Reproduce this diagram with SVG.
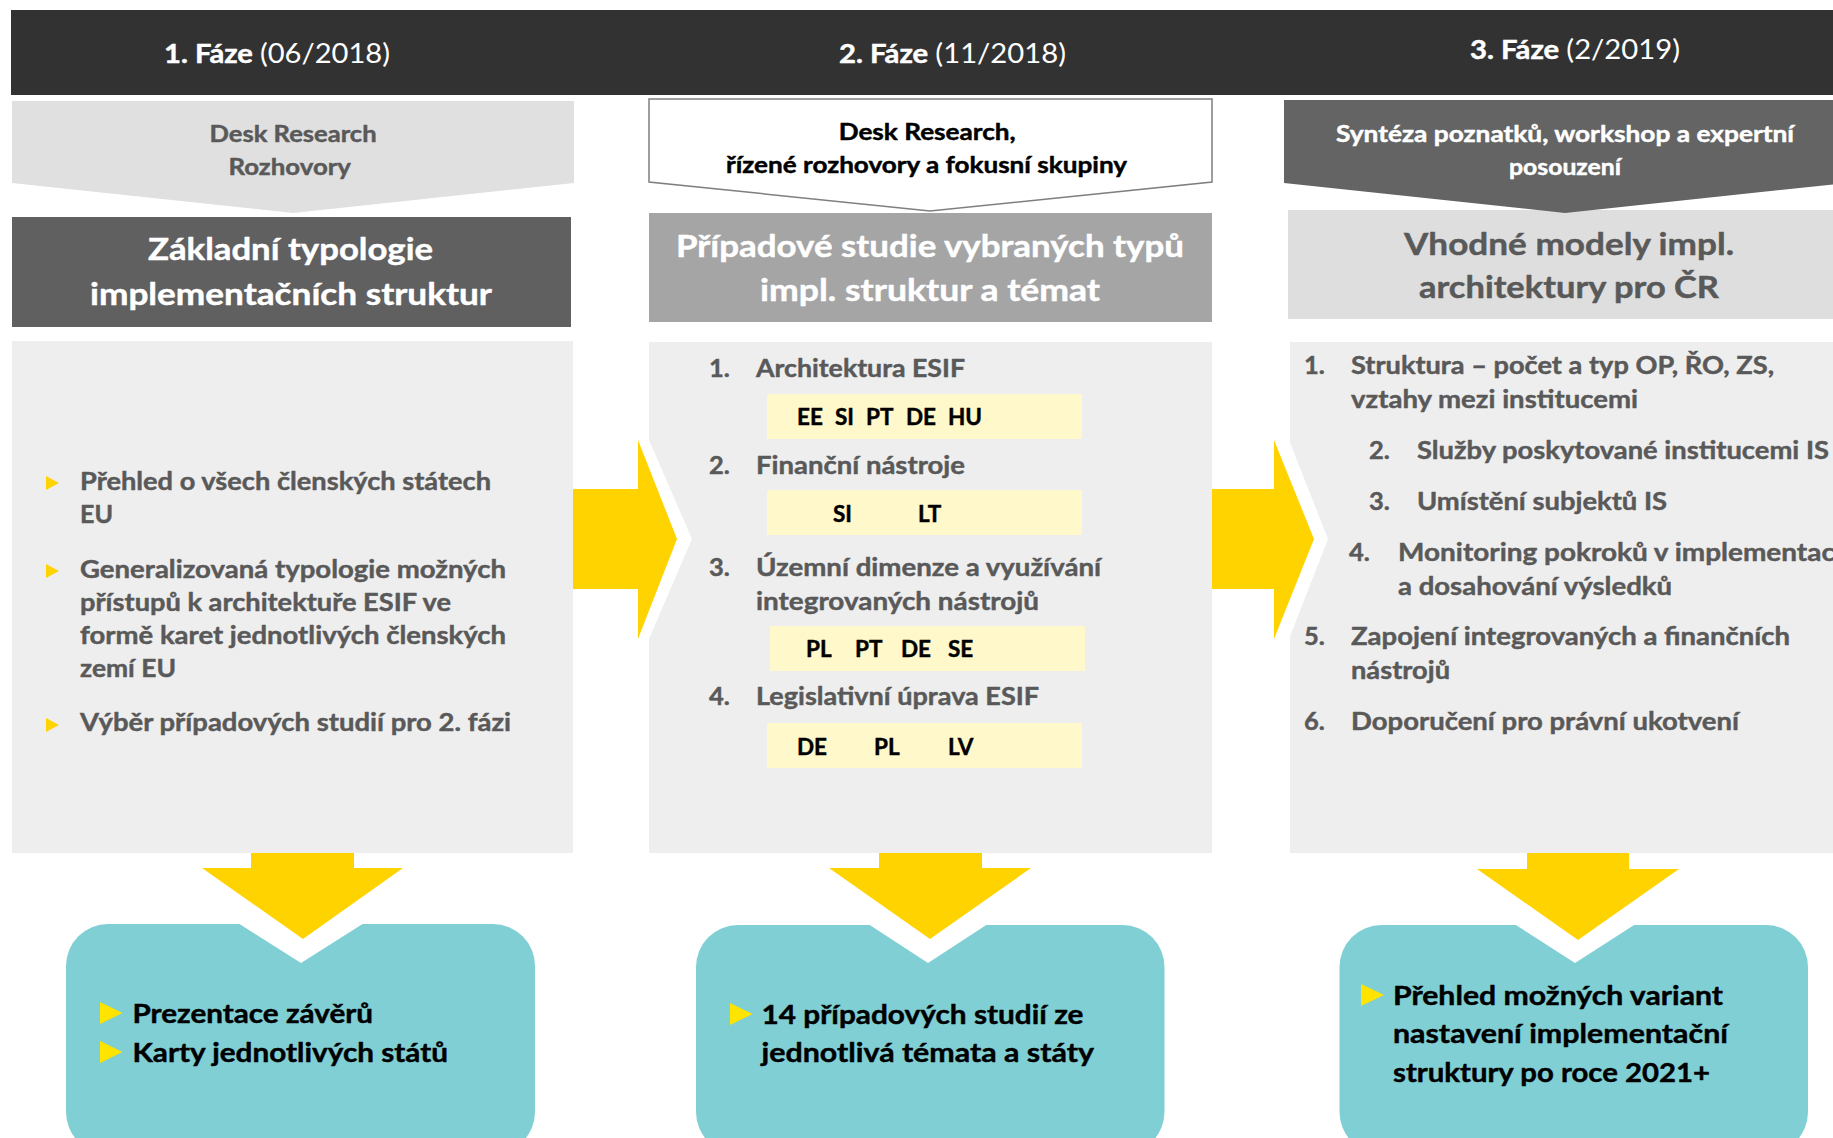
<svg xmlns="http://www.w3.org/2000/svg" width="1833" height="1138" viewBox="0 0 1833 1138">
<defs>
<style>
text{font-family:Lato,"Open Sans","Liberation Sans",sans-serif;font-weight:700;stroke-width:0.45px;stroke-linejoin:round}
.reg{font-weight:400;stroke-width:0}
.hdr{fill:#fff;stroke:#fff;font-size:26px}
.pt1{fill:#595959;stroke:#595959;font-size:22.5px}
.pt2{fill:#000;stroke:#000;font-size:22.5px}
.pt3{fill:#fff;stroke:#fff;font-size:22px}
.ttlw{fill:#fff;stroke:#fff;font-size:31px}
.ttlg{fill:#595959;stroke:#595959;font-size:31px}
.body{fill:#595959;stroke:#595959;font-size:25.5px}
.code{fill:#000;stroke:#000;font-size:22.5px}
.res{fill:#000;stroke:#000;font-size:27.5px}
.arrow{fill:#FFD300}
.gap{fill:#fff}
.bul{fill:#FFD300}
.tbul{fill:#FFE400}
.ybox{fill:#FFF8CA}
.panel{fill:#EEEEEE}
.teal{fill:#80CFD4}
</style>
</defs>
<rect width="1833" height="1138" fill="#fff"/>

<g id="header">
<rect x="11" y="10" width="1830" height="85" fill="#323232"/>
<text class="hdr" x="164" y="63" textLength="226" lengthAdjust="spacingAndGlyphs">1. Fáze <tspan class="reg">(06/2018)</tspan></text>
<text class="hdr" x="839" y="63" textLength="227" lengthAdjust="spacingAndGlyphs">2. Fáze <tspan class="reg">(11/2018)</tspan></text>
<text class="hdr" x="1470" y="59" textLength="210" lengthAdjust="spacingAndGlyphs">3. Fáze <tspan class="reg">(2/2019)</tspan></text>
</g>

<!-- Phase 1 -->
<g id="phase1-method">
<polygon points="12,101 574,101 574,183 293,213 12,183" fill="#E0E0E0"/>
<text class="pt1" x="209.6" y="142" textLength="167" lengthAdjust="spacingAndGlyphs">Desk Research</text>
<text class="pt1" x="228.5" y="175" textLength="122.5" lengthAdjust="spacingAndGlyphs">Rozhovory</text>
</g>
<g id="phase1-title">
<rect x="12" y="217" width="559" height="110" fill="#606060"/>
<text class="ttlw" x="148" y="260" textLength="285" lengthAdjust="spacingAndGlyphs">Základní typologie</text>
<text class="ttlw" x="90" y="305" textLength="402" lengthAdjust="spacingAndGlyphs">implementačních struktur</text>
</g>
<g id="phase1-body">
<rect class="panel" x="12" y="341" width="561" height="512"/>
<polygon class="bul" points="46,476 59,483 46,490"/>
<text class="body" x="80" y="490" textLength="411" lengthAdjust="spacingAndGlyphs">Přehled o všech členských státech</text>
<text class="body" x="80" y="523" textLength="33" lengthAdjust="spacingAndGlyphs">EU</text>
<polygon class="bul" points="46,564 59,571 46,578"/>
<text class="body" x="80" y="578" textLength="426" lengthAdjust="spacingAndGlyphs">Generalizovaná typologie možných</text>
<text class="body" x="80" y="611" textLength="371" lengthAdjust="spacingAndGlyphs">přístupů k architektuře ESIF ve</text>
<text class="body" x="80" y="644" textLength="426" lengthAdjust="spacingAndGlyphs">formě karet jednotlivých členských</text>
<text class="body" x="80" y="677" textLength="96" lengthAdjust="spacingAndGlyphs">zemí EU</text>
<polygon class="bul" points="46,718 59,725 46,732"/>
<text class="body" x="80" y="731" textLength="431" lengthAdjust="spacingAndGlyphs">Výběr případových studií pro 2. fázi</text>
</g>
<g id="phase1-result">
<rect class="teal" x="66" y="924" width="469" height="230" rx="42" ry="42"/>
<polygon class="tbul" points="100,1002 122.5,1013 100,1024"/>
<text class="res" x="132.5" y="1023" textLength="240.5" lengthAdjust="spacingAndGlyphs">Prezentace závěrů</text>
<polygon class="tbul" points="100,1041 122.5,1052 100,1063"/>
<text class="res" x="132.5" y="1062" textLength="315.5" lengthAdjust="spacingAndGlyphs">Karty jednotlivých států</text>
</g>

<!-- Phase 2 -->
<g id="phase2-method">
<polygon points="649,99 1212,99 1212,182 930,211 649,182" fill="#fff" stroke="#7F7F7F" stroke-width="1.5"/>
<text class="pt2" x="838.7" y="140" textLength="177" lengthAdjust="spacingAndGlyphs">Desk Research,</text>
<text class="pt2" x="726" y="173" textLength="401" lengthAdjust="spacingAndGlyphs">řízené rozhovory a fokusní skupiny</text>
</g>
<g id="phase2-title">
<rect x="649" y="213" width="563" height="109" fill="#A5A5A5"/>
<text class="ttlw" x="676" y="257" textLength="508" lengthAdjust="spacingAndGlyphs">Případové studie vybraných typů</text>
<text class="ttlw" x="760" y="301" textLength="340" lengthAdjust="spacingAndGlyphs">impl. struktur a témat</text>
</g>
<g id="phase2-body">
<rect class="panel" x="649" y="342" width="563" height="511"/>
<text class="body" x="709" y="377">1.</text>
<text class="body" x="756" y="377" textLength="209" lengthAdjust="spacingAndGlyphs">Architektura ESIF</text>
<rect class="ybox" x="767" y="394" width="315" height="45"/>
<text class="code" x="797" y="425">EE</text>
<text class="code" x="835" y="425">SI</text>
<text class="code" x="866" y="425">PT</text>
<text class="code" x="906" y="425">DE</text>
<text class="code" x="948" y="425">HU</text>
<text class="body" x="709" y="474">2.</text>
<text class="body" x="756" y="474" textLength="209" lengthAdjust="spacingAndGlyphs">Finanční nástroje</text>
<rect class="ybox" x="767" y="490" width="315" height="45"/>
<text class="code" x="833" y="522">SI</text>
<text class="code" x="918" y="522">LT</text>
<text class="body" x="709" y="576">3.</text>
<text class="body" x="756" y="576" textLength="345" lengthAdjust="spacingAndGlyphs">Územní dimenze a využívání</text>
<text class="body" x="756" y="610" textLength="283" lengthAdjust="spacingAndGlyphs">integrovaných nástrojů</text>
<rect class="ybox" x="770" y="626" width="315" height="45"/>
<text class="code" x="806" y="657">PL</text>
<text class="code" x="855" y="657">PT</text>
<text class="code" x="901" y="657">DE</text>
<text class="code" x="948" y="657">SE</text>
<text class="body" x="709" y="705">4.</text>
<text class="body" x="756" y="705" textLength="283" lengthAdjust="spacingAndGlyphs">Legislativní úprava ESIF</text>
<rect class="ybox" x="767" y="723" width="315" height="45"/>
<text class="code" x="797" y="755">DE</text>
<text class="code" x="874" y="755">PL</text>
<text class="code" x="948" y="755">LV</text>
</g>
<g id="phase2-result">
<rect class="teal" x="696" y="925" width="468.5" height="229" rx="42" ry="42"/>
<polygon class="tbul" points="730,1003 752.5,1014 730,1025"/>
<text class="res" x="761.5" y="1024" textLength="322" lengthAdjust="spacingAndGlyphs">14 případových studií ze</text>
<text class="res" x="761.5" y="1062" textLength="332.5" lengthAdjust="spacingAndGlyphs">jednotlivá témata a státy</text>
</g>

<!-- Phase 3 -->
<g id="phase3-title">
<rect x="1288" y="210" width="560" height="109" fill="#DEDEDE"/>
<text class="ttlg" x="1404" y="255" textLength="330" lengthAdjust="spacingAndGlyphs">Vhodné modely impl.</text>
<text class="ttlg" x="1419" y="298" textLength="300" lengthAdjust="spacingAndGlyphs">architektury pro ČR</text>
</g>
<g id="phase3-method">
<polygon points="1284,100 1846,100 1846,183 1565,213 1284,183" fill="#646464"/>
<text class="pt3" x="1336" y="142" textLength="458" lengthAdjust="spacingAndGlyphs">Syntéza poznatků, workshop a expertní</text>
<text class="pt3" x="1509" y="175" textLength="112" lengthAdjust="spacingAndGlyphs">posouzení</text>
</g>
<g id="phase3-body">
<rect class="panel" x="1290" y="342" width="560" height="511"/>
<text class="body" x="1304" y="374">1.</text>
<text class="body" x="1351" y="374" textLength="423" lengthAdjust="spacingAndGlyphs">Struktura – počet a typ OP, ŘO, ZS,</text>
<text class="body" x="1351" y="408" textLength="287" lengthAdjust="spacingAndGlyphs">vztahy mezi institucemi</text>
<text class="body" x="1369" y="459">2.</text>
<text class="body" x="1417" y="459" textLength="412" lengthAdjust="spacingAndGlyphs">Služby poskytované institucemi IS</text>
<text class="body" x="1369" y="510">3.</text>
<text class="body" x="1417" y="510" textLength="250" lengthAdjust="spacingAndGlyphs">Umístění subjektů IS</text>
<text class="body" x="1349" y="561">4.</text>
<text class="body" x="1398" y="561" textLength="444" lengthAdjust="spacingAndGlyphs">Monitoring pokroků v implementaci</text>
<text class="body" x="1398" y="595" textLength="274" lengthAdjust="spacingAndGlyphs">a dosahování výsledků</text>
<text class="body" x="1304" y="645">5.</text>
<text class="body" x="1351" y="645" textLength="439" lengthAdjust="spacingAndGlyphs">Zapojení integrovaných a finančních</text>
<text class="body" x="1351" y="679" textLength="99" lengthAdjust="spacingAndGlyphs">nástrojů</text>
<text class="body" x="1304" y="730">6.</text>
<text class="body" x="1351" y="730" textLength="388" lengthAdjust="spacingAndGlyphs">Doporučení pro právní ukotvení</text>
</g>
<g id="phase3-result">
<rect class="teal" x="1339.5" y="925" width="468.5" height="229" rx="42" ry="42"/>
<polygon class="tbul" points="1361,984 1384,995 1361,1006"/>
<text class="res" x="1393" y="1005" textLength="330" lengthAdjust="spacingAndGlyphs">Přehled možných variant</text>
<text class="res" x="1393" y="1043" textLength="335" lengthAdjust="spacingAndGlyphs">nastavení implementační</text>
<text class="res" x="1393" y="1082" textLength="317" lengthAdjust="spacingAndGlyphs">struktury po roce 2021+</text>
</g>

<g id="connectors">
<polygon class="gap" points="638,440 649,440 692,539 649,639 638,639"/>
<polygon class="arrow" points="573,489 638,489 638,440 677,539 638,639 638,589 573,589"/>
<polygon class="gap" points="1274,440 1289,440 1328,539 1289,639 1274,639"/>
<polygon class="arrow" points="1212,489 1274,489 1274,440 1314,539 1274,639 1274,589 1212,589"/>
<polygon class="gap" points="230,918 301,963 372,918"/>
<polygon class="arrow" points="251,853 354,853 354,868 403,868 303,939 202,868 251,868"/>
<polygon class="gap" points="859,918 928,963 997,918"/>
<polygon class="arrow" points="879,853 982,853 982,868 1031,868 930,939 829,868 879,868"/>
<polygon class="gap" points="1505,918 1575,963 1645,918"/>
<polygon class="arrow" points="1527,853 1629,853 1629,869 1679,869 1578,940 1477,869 1527,869"/>
</g>
</svg>
